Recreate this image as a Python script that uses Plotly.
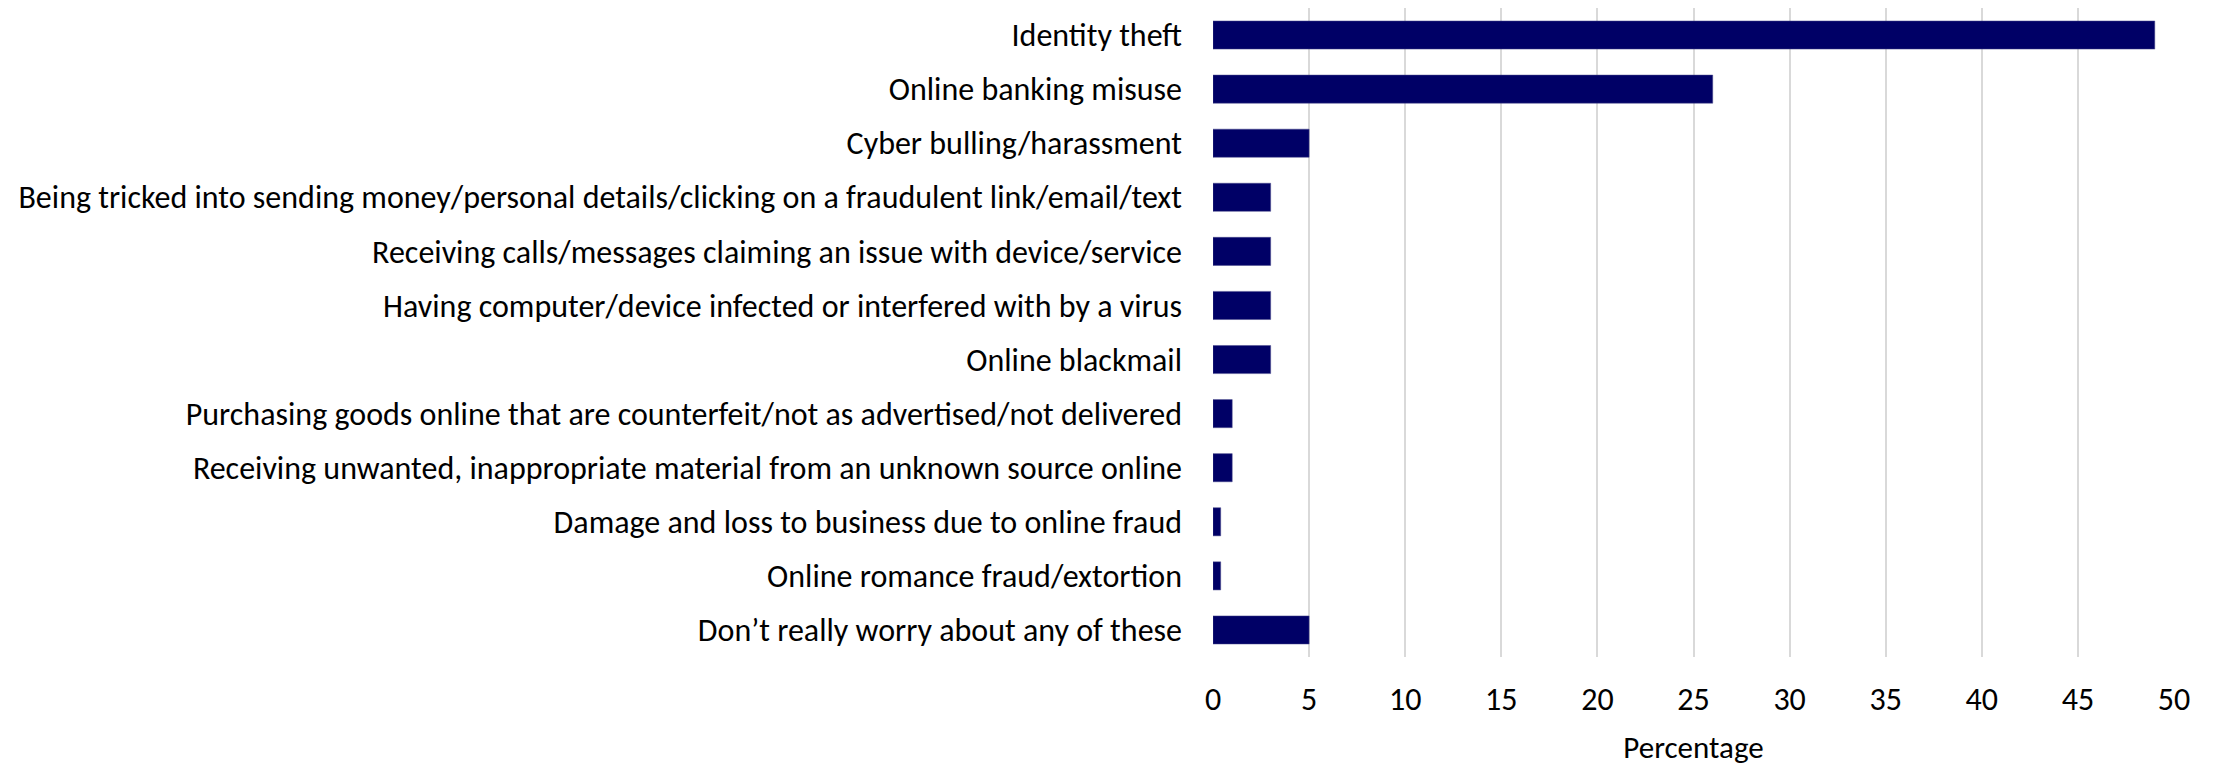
import plotly.graph_objects as go

categories = [
    "Identity theft",
    "Online banking misuse",
    "Cyber bulling/harassment",
    "Being tricked into sending money/personal details/clicking on a fraudulent link/email/text",
    "Receiving calls/messages claiming an issue with device/service",
    "Having computer/device infected or interfered with by a virus",
    "Online blackmail",
    "Purchasing goods online that are counterfeit/not as advertised/not delivered",
    "Receiving unwanted, inappropriate material from an unknown source online",
    "Damage and loss to business due to online fraud",
    "Online romance fraud/extortion",
    "Don\u2019t really worry about any of these",
]
values = [49, 26, 5, 3, 3, 3, 3, 1, 1, 0.4, 0.4, 5]
x_ticks = [0, 5, 10, 15, 20, 25, 30, 35, 40, 45, 50]

fig = go.Figure(
    go.Bar(
        y=categories,
        x=values,
        orientation="h",
        marker=dict(color="#000066", line=dict(color="#4a4a8c", width=0.5)),
    )
)

font_family = "Carlito, Calibri, Lato, sans-serif"

fig.update_layout(
    width=2216,
    height=770,
    margin=dict(l=1205, r=50, t=0, b=121),
    plot_bgcolor="white",
    paper_bgcolor="white",
    bargap=0.48,
    showlegend=False,
    font=dict(family=font_family, size=32, color="#000000"),
)
fig.update_xaxes(
    range=[0, 50],
    tickvals=x_ticks,
    showgrid=True,
    gridcolor="#d9d9d9",
    gridwidth=2,
    zeroline=False,
    showline=False,
    ticks="",
    ticklabelstandoff=20,
    title=dict(text="Percentage", font=dict(size=31), standoff=18),
)
fig.update_yaxes(
    categoryorder="array",
    categoryarray=categories,
    autorange="reversed",
    showgrid=False,
    ticks="",
    showline=False,
    ticklabelstandoff=30,
)

fig.write_html("out.html")
